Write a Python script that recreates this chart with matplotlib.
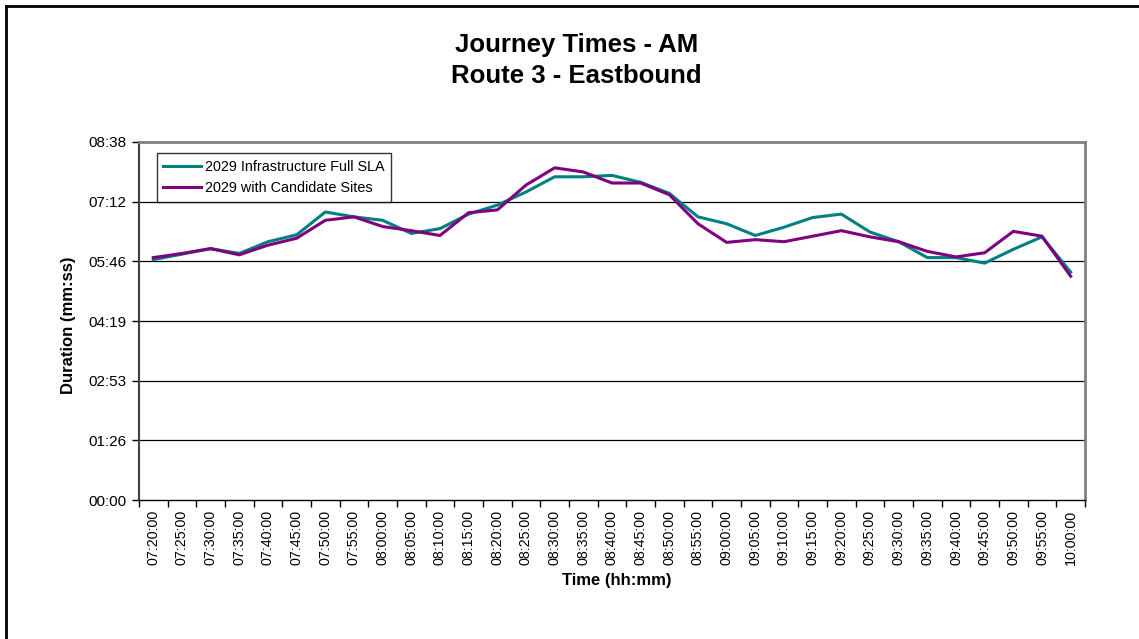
import matplotlib
matplotlib.use('Agg')
import matplotlib.pyplot as plt
import numpy as np

plt.rcParams['font.family'] = ['Liberation Sans', 'DejaVu Sans']

# 5-minute slots from 07:20 to 10:00
times = ['07:20:00', '07:25:00', '07:30:00', '07:35:00', '07:40:00', '07:45:00',
         '07:50:00', '07:55:00', '08:00:00', '08:05:00', '08:10:00', '08:15:00',
         '08:20:00', '08:25:00', '08:30:00', '08:35:00', '08:40:00', '08:45:00',
         '08:50:00', '08:55:00', '09:00:00', '09:05:00', '09:10:00', '09:15:00',
         '09:20:00', '09:25:00', '09:30:00', '09:35:00', '09:40:00', '09:45:00',
         '09:50:00', '09:55:00', '10:00:00']

# journey durations in seconds
full_sla = [348, 356, 364, 357, 374, 384, 417, 410, 405, 386, 393, 414,
            427, 446, 468, 468, 470, 460, 444, 410, 400, 383, 395, 409,
            414, 388, 374, 351, 351, 343, 363, 381, 330]
candidate = [351, 357, 364, 355, 369, 379, 405, 410, 396, 390, 383, 416,
             420, 456, 481, 475, 459, 459, 442, 400, 373, 377, 374, 382,
             390, 381, 374, 360, 352, 358, 389, 382, 324]

# Excel-style tick spacing: 1/1000 of a day
y_ticks = [0, 86.4, 172.8, 259.2, 345.6, 432.0, 518.4]
y_labels = ['00:00', '01:26', '02:53', '04:19', '05:46', '07:12', '08:38']

fig = plt.figure(figsize=(11.39, 6.39), dpi=100)
ax = fig.add_axes([0.122, 0.2175, 0.8306, 0.5603])

x = np.arange(len(times))
ax.plot(x, full_sla, color='#008080', linewidth=2.2, label='2029 Infrastructure Full SLA')
ax.plot(x, candidate, color='#800080', linewidth=2.2, label='2029 with Candidate Sites')

ax.set_xlim(-0.5, len(times) - 0.5)
ax.set_ylim(0, 518.4)
ax.set_yticks(y_ticks)
ax.set_yticklabels(y_labels, fontsize=11)
for yv in y_ticks[1:-1]:
    ax.axhline(yv, color='black', linewidth=0.9, zorder=0)

ax.set_xticks(x)
ax.set_xticklabels(times, rotation=90, fontsize=10.3)
ax.tick_params(axis='x', which='major', length=0, pad=7)
ax.set_xticks(np.arange(len(times) + 1) - 0.5, minor=True)
ax.tick_params(axis='x', which='minor', length=5, width=1, direction='out')
ax.tick_params(axis='y', length=5, width=1, direction='out', pad=4)

for side in ('top', 'right'):
    ax.spines[side].set_color('#808080')
    ax.spines[side].set_linewidth(2)
ax.spines['left'].set_color('#404040')
ax.spines['left'].set_linewidth(1.5)
ax.spines['bottom'].set_color('black')
ax.spines['bottom'].set_linewidth(1)

ax.set_ylabel('Duration (mm:ss)', fontsize=12, fontweight='bold', va='center')
ax.yaxis.set_label_coords(-0.075, 0.489)
ax.set_xlabel('Time (hh:mm)', fontsize=12, fontweight='bold', va='center')
ax.xaxis.set_label_coords(0.505, -0.226)

leg = ax.legend(loc='upper left', bbox_to_anchor=(0.019, 0.968), fontsize=10.4,
                frameon=True, fancybox=False, handlelength=2.6, handletextpad=0.3,
                borderpad=0.45, labelspacing=0.5, borderaxespad=0)
leg.get_frame().set_edgecolor('black')
leg.get_frame().set_linewidth(1)

fig.text(0.506, 0.9296, 'Journey Times - AM', ha='center', va='center',
         fontsize=18.5, fontweight='bold')
fig.text(0.506, 0.881, 'Route 3 - Eastbound', ha='center', va='center',
         fontsize=18.5, fontweight='bold')

# frame lines along the top and left of the chart area
fig.add_artist(plt.Line2D([0.005, 0.005], [0.0, 0.991], color='black', linewidth=2,
                          transform=fig.transFigure))
fig.add_artist(plt.Line2D([0.005, 1.0], [0.991, 0.991], color='black', linewidth=2,
                          transform=fig.transFigure))

fig.savefig('out.png', dpi=100, facecolor='white')
